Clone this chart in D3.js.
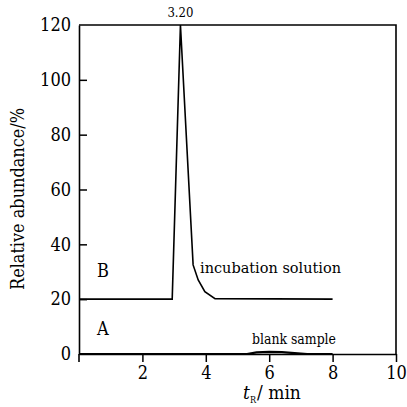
<!DOCTYPE html>
<html>
<head>
<meta charset="utf-8">
<script src="https://cdn.jsdelivr.net/npm/d3@7"></script>
<style>
  body { margin: 0; background: #fff; }
</style>
</head>
<body>
<div class="container"></div>
<script>
// trace B: incubation solution (drawn with +20 offset as in the figure)
const timeB = [0, 2.94, 3.2, 3.6, 3.76, 3.97, 4.29, 8]
const abundB = [20, 20, 120, 32.5, 27, 22.7, 20.2, 20]
// trace A: blank sample
const timeA = [0, 5.3, 5.6, 6.0, 6.4, 6.8, 7.2, 8]
const abundA = [0, 0, 0.6, 0.8, 0.7, 0.3, 0, 0]

const xTicks = [2, 4, 6, 8, 10]
const yTicks = [0, 20, 40, 60, 80, 100, 120]
const peakLabel = "3.20"
const peakTime = 3.2

const w = 407
const h = 407
const padL = 79, padR = 396, padT = 25, padB = 354
const serif = "'DejaVu Serif Condensed', 'DejaVu Serif', serif"

const svg = d3.select(".container").append("svg")
    .attr("width", w)
    .attr("height", h)

const xScale = d3.scaleLinear().domain([0, 10]).range([padL, padR])
const yScale = d3.scaleLinear().domain([0, 120]).range([padB, padT])

// frame
svg.append("path")
    .attr("d", `M${padL},${padT}H${padR}V${padB}`)
    .attr("fill", "none")
    .attr("stroke", "#000")
    .attr("stroke-width", 1.6)

const xAxis = d3.axisBottom(xScale).tickValues(xTicks).tickSize(8).tickSizeOuter(0).tickPadding(4)
const gx = svg.append("g")
    .attr("transform", "translate(0," + padB + ")")
    .call(xAxis)

const yAxis = d3.axisLeft(yScale).tickValues(yTicks).tickSize(-8).tickSizeOuter(0).tickPadding(8)
const gy = svg.append("g")
    .attr("transform", "translate(" + padL + ",0)")
    .call(yAxis)
gy.selectAll(".tick").filter(d => d === 0 || d === 120).select("line").remove()

svg.selectAll("g").attr("font-family", serif).attr("font-size", 18)
svg.selectAll(".domain").attr("stroke-width", 1.6)
svg.selectAll(".tick line").attr("stroke-width", 1.5)
// left axis reaches below x axis as in the figure
svg.append("line")
    .attr("x1", padL).attr("x2", padL)
    .attr("y1", padB).attr("y2", padB + 8)
    .attr("stroke", "#000").attr("stroke-width", 1.6)

const line = d3.line().x(d => xScale(d[0])).y(d => yScale(d[1]))

svg.append("path")
    .datum(timeB.map((t, i) => [t, abundB[i]]))
    .attr("d", line)
    .attr("fill", "none")
    .attr("stroke", "#000")
    .attr("stroke-width", 1.6)

svg.append("path")
    .datum(timeA.map((t, i) => [t, abundA[i]]))
    .attr("d", line)
    .attr("fill", "none")
    .attr("stroke", "#000")
    .attr("stroke-width", 2.2)

// labels
const label = (x, y, size, txt) => svg.append("text")
    .attr("x", x).attr("y", y)
    .attr("font-family", serif)
    .attr("font-size", size)
    .text(txt)

label(xScale(peakTime), padT - 8, 13, peakLabel).attr("text-anchor", "middle")
label(97, 277, 18, "B")
label(97, 335, 18, "A")
label(200, 273, 14.5, "incubation solution")
    .attr("textLength", 141).attr("lengthAdjust", "spacingAndGlyphs")
label(252, 344, 14.5, "blank sample")
    .attr("textLength", 84).attr("lengthAdjust", "spacingAndGlyphs")

label(0, 0, 19, "Relative abundance/%")
    .attr("transform", "translate(24,290) rotate(-90)")
    .attr("textLength", 182).attr("lengthAdjust", "spacingAndGlyphs")

const xl = label(243, 399, 19, "")
xl.append("tspan").style("font-style", "italic").text("t")
xl.append("tspan").attr("dy", 4).attr("font-size", 9).text("R")
xl.append("tspan").attr("dy", -4).attr("dx", 1).text("/ min")
</script>
</body>
</html>
